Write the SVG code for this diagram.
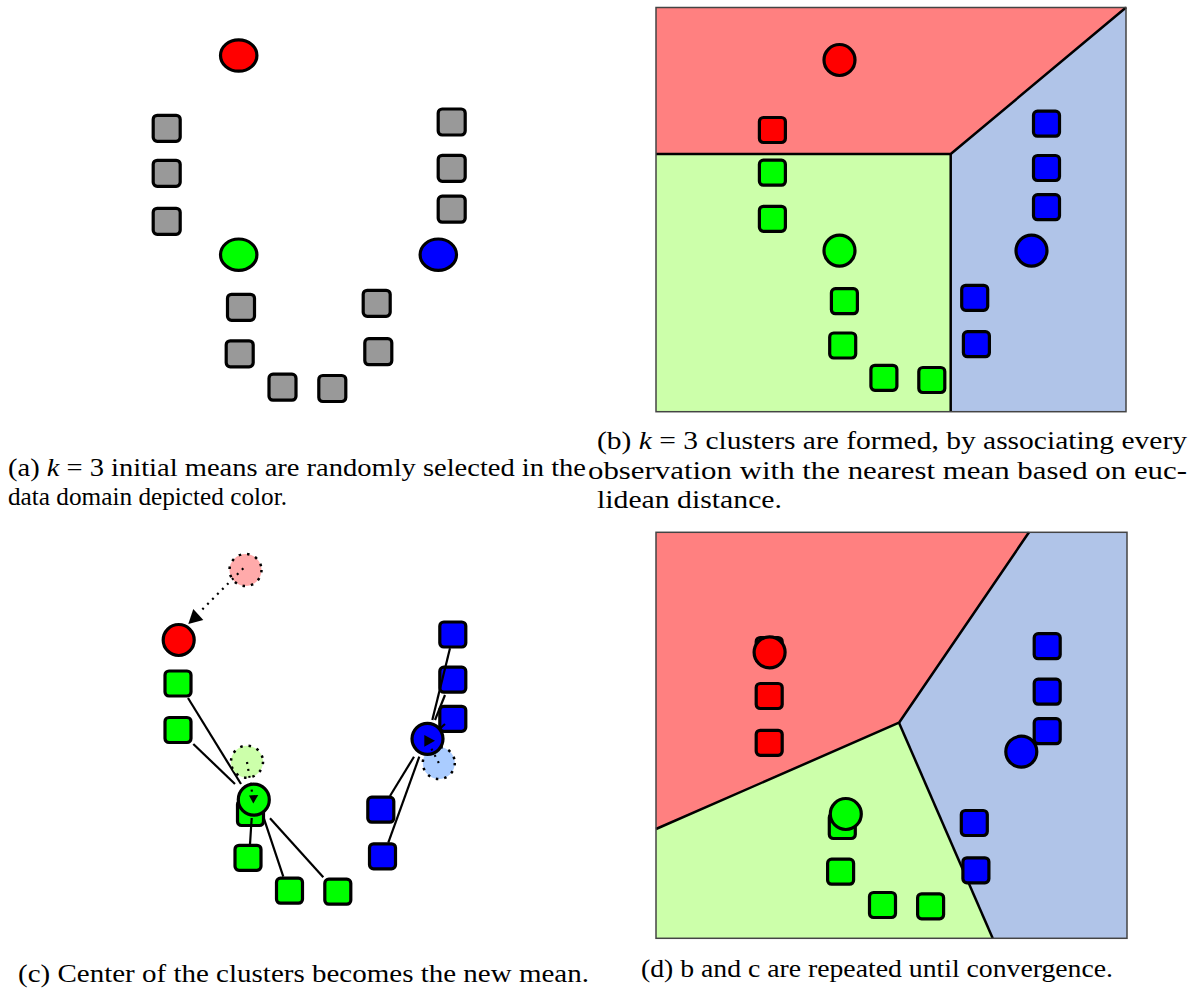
<svg xmlns="http://www.w3.org/2000/svg" width="1196" height="992" viewBox="0 0 1196 992">
<style>
.sq{stroke:#000;stroke-width:3.2;rx:4;ry:4}
.pt{stroke:#000;stroke-width:3.2}
.gray{fill:#999999}.red{fill:#ff0000}.green{fill:#00ff00}.blue{fill:#0000ff}
.dot{stroke:#000;stroke-width:2.2;stroke-dasharray:2 5;stroke-linecap:butt}
.ln{stroke:#000;stroke-width:2.2;fill:none}
.bd{stroke:#000;stroke-width:2.5;fill:none;stroke-linejoin:round}
.frame{fill:none;stroke:#444;stroke-width:1.5}
text{font-size:26px;fill:#000}
</style>

<!-- Panel (a) -->
<g id="panel-a">
<g id="a-points">
<rect class="sq gray" x="153.2" y="115.3" width="27" height="26"/>
<rect class="sq gray" x="153.2" y="160.3" width="27" height="26"/>
<rect class="sq gray" x="153.2" y="208.3" width="27" height="26"/>
<rect class="sq gray" x="438.2" y="109" width="27" height="26"/>
<rect class="sq gray" x="438.2" y="155.3" width="27" height="26"/>
<rect class="sq gray" x="438.2" y="196.2" width="27" height="26"/>
<rect class="sq gray" x="227.5" y="294.3" width="27" height="26"/>
<rect class="sq gray" x="226.2" y="340.8" width="27" height="26"/>
<rect class="sq gray" x="269" y="374.2" width="27" height="26"/>
<rect class="sq gray" x="318.8" y="375.5" width="27" height="26"/>
<rect class="sq gray" x="363.2" y="290.3" width="27" height="26"/>
<rect class="sq gray" x="364.8" y="338.7" width="27" height="26"/>
</g>
<ellipse id="a-mean-red" class="pt red" cx="238.7" cy="55.5" rx="18.2" ry="15.7"/>
<ellipse id="a-mean-green" class="pt green" cx="238.7" cy="254.7" rx="18.2" ry="15.7"/>
<ellipse id="a-mean-blue" class="pt blue" cx="438.3" cy="254.7" rx="18.2" ry="15.7"/>
</g>

<!-- Panel (b) -->
<g id="panel-b">
<polygon id="b-region-red" points="656,7.5 1126,7.5 950.7,154 656,154" fill="#ff8080"/>
<polygon id="b-region-green" points="656,154 950.7,154 950.7,411.7 656,411.7" fill="#ccffaa"/>
<polygon id="b-region-blue" points="950.7,154 1126,7.5 1126,411.7 950.7,411.7" fill="#b0c4e8"/>
<g id="b-boundaries">
<polyline class="bd" points="656,154 950.7,154 1126,7.5"/>
<line class="bd" x1="950.7" y1="154" x2="950.7" y2="411.7"/>
</g>
<rect class="frame" x="656" y="7.5" width="470" height="404.2"/>
<rect class="sq red" x="759.4" y="117.5" width="26" height="25"/>
<rect class="sq green" x="759.4" y="160.2" width="26" height="25"/>
<rect class="sq green" x="759.4" y="206.3" width="26" height="25"/>
<rect class="sq green" x="831.4" y="288.7" width="26" height="25"/>
<rect class="sq green" x="829.7" y="333" width="26" height="25"/>
<rect class="sq green" x="870.9" y="365.3" width="26" height="25"/>
<rect class="sq green" x="918.8" y="367.5" width="26" height="25"/>
<rect class="sq blue" x="1033.5" y="111.2" width="26" height="25"/>
<rect class="sq blue" x="1033.5" y="155.5" width="26" height="25"/>
<rect class="sq blue" x="1033.5" y="194.7" width="26" height="25"/>
<rect class="sq blue" x="961.7" y="285.3" width="26" height="25"/>
<rect class="sq blue" x="963.4" y="331.7" width="26" height="25"/>
<circle class="pt red" cx="839.5" cy="60" r="15.5"/>
<circle class="pt green" cx="839.5" cy="250.7" r="15.5"/>
<circle class="pt blue" cx="1031.5" cy="250.7" r="15.5"/>
</g>

<!-- Panel (c) -->
<g id="panel-c">
<g id="c-points">
<rect class="sq green" x="165" y="671" width="26" height="25"/>
<rect class="sq green" x="165" y="717.5" width="26" height="25"/>
<rect class="sq green" x="237.5" y="800.5" width="26" height="25"/>
<rect class="sq green" x="235" y="845.3" width="26" height="25"/>
<rect class="sq green" x="276.5" y="878.2" width="26" height="25"/>
<rect class="sq green" x="324.8" y="879.2" width="26" height="25"/>
<rect class="sq blue" x="439.8" y="622" width="26" height="25"/>
<rect class="sq blue" x="439.8" y="667.2" width="26" height="25"/>
<rect class="sq blue" x="439.8" y="706.3" width="26" height="25"/>
<rect class="sq blue" x="367.8" y="797.2" width="26" height="25"/>
<rect class="sq blue" x="369.5" y="843.8" width="26" height="25"/>
</g>
<g id="c-connectors">
<line class="ln" x1="188" y1="698" x2="241" y2="784"/>
<line class="ln" x1="193.3" y1="744" x2="235" y2="784"/>
<line class="ln" x1="251.7" y1="818" x2="250" y2="844"/>
<line class="ln" x1="263.3" y1="816.7" x2="283.3" y2="876.7"/>
<line class="ln" x1="270" y1="818.3" x2="323.3" y2="877.3"/>
<line class="ln" x1="450" y1="648.3" x2="432.3" y2="720"/>
<line class="ln" x1="445" y1="695" x2="435" y2="720"/>
<line class="ln" x1="445" y1="724" x2="438.3" y2="730"/>
<line class="ln" x1="414" y1="756.7" x2="390" y2="796"/>
<line class="ln" x1="419.3" y1="756.7" x2="388.3" y2="842.7"/>
</g>
<circle id="c-old-red" cx="245.5" cy="570" r="16" fill="#ffaaaa" stroke="#000" stroke-width="2.5" stroke-dasharray="2.5 6"/>
<circle id="c-old-green" cx="247" cy="761.7" r="16" fill="#ccffaa" stroke="#000" stroke-width="2.5" stroke-dasharray="2.5 6"/>
<circle id="c-new-red" class="pt red" cx="178.7" cy="640" r="15.5"/>
<circle id="c-old-blue" cx="438.8" cy="763" r="16" fill="#aaccff" stroke="#000" stroke-width="2.5" stroke-dasharray="2.5 6"/>
<circle id="c-new-green" class="pt green" cx="253.8" cy="799.7" r="15.5"/>
<circle id="c-new-blue" class="pt blue" cx="427.5" cy="738.8" r="15.5"/>
<g id="c-moves">
<line class="dot" x1="243.3" y1="568.3" x2="200" y2="611.7"/>
<polygon points="188.3,624 193.3,609 203.3,620" fill="#000"/>
<line class="dot" x1="247" y1="762" x2="252" y2="792"/>
<polygon points="249,795.5 258.3,795 253.3,803.5" fill="#000"/>
<line class="dot" x1="438.8" y1="763" x2="431" y2="748"/>
<polygon points="424.3,735 435,740.7 424.3,746.7" fill="#000"/>
</g>
</g>

<!-- Panel (d) -->
<g id="panel-d">
<polygon id="d-region-red" points="656,532.3 1029,532.3 899,722.7 656,829" fill="#ff8080"/>
<polygon id="d-region-green" points="656,829 899,722.7 992.7,938.3 656,938.3" fill="#ccffaa"/>
<polygon id="d-region-blue" points="1029,532.3 1127,532.3 1127,938.3 992.7,938.3 899,722.7" fill="#b0c4e8"/>
<g id="d-boundaries">
<polyline class="bd" points="1029,532.3 899,722.7 656,829"/>
<line class="bd" x1="899" y1="722.7" x2="992.7" y2="938.3"/>
</g>
<rect class="frame" x="656" y="532.3" width="471" height="406"/>
<rect class="sq red" x="756.2" y="637.5" width="26" height="25"/>
<rect class="sq red" x="756.2" y="683.5" width="26" height="25"/>
<rect class="sq red" x="756.2" y="730.3" width="26" height="25"/>
<rect class="sq green" x="829.3" y="813.5" width="26" height="25"/>
<rect class="sq green" x="827.6" y="859.2" width="26" height="25"/>
<rect class="sq green" x="869.5" y="892.5" width="26" height="25"/>
<rect class="sq green" x="917.6" y="893.8" width="26" height="25"/>
<rect class="sq blue" x="1034.2" y="633.7" width="26" height="25"/>
<rect class="sq blue" x="1034.2" y="679.2" width="26" height="25"/>
<rect class="sq blue" x="1034.2" y="718.7" width="26" height="25"/>
<rect class="sq blue" x="961.3" y="810.5" width="26" height="25"/>
<rect class="sq blue" x="962.9" y="857.8" width="26" height="25"/>
<circle class="pt red" cx="769.6" cy="652.3" r="15.5"/>
<circle class="pt green" cx="845.8" cy="814" r="15.5"/>
<circle class="pt blue" cx="1021.3" cy="751.7" r="15.5"/>
</g>

<!-- Captions -->
<g id="captions" font-family="'Liberation Serif', serif">
<text x="8" y="476" font-family="'Liberation Serif', serif" textLength="578" lengthAdjust="spacingAndGlyphs">(a) <tspan font-style="italic">k</tspan> = 3 initial means are randomly selected in the</text>
<text x="8" y="505" font-family="'Liberation Serif', serif" textLength="279" lengthAdjust="spacingAndGlyphs">data domain depicted color.</text>
<text x="597" y="449" font-family="'Liberation Serif', serif" textLength="590" lengthAdjust="spacingAndGlyphs">(b) <tspan font-style="italic">k</tspan> = 3 clusters are formed, by associating every</text>
<text x="588" y="479" font-family="'Liberation Serif', serif" textLength="599" lengthAdjust="spacingAndGlyphs">observation with the nearest mean based on euc-</text>
<text x="597" y="508" font-family="'Liberation Serif', serif" textLength="185" lengthAdjust="spacingAndGlyphs">lidean distance.</text>
<text x="18" y="982" font-family="'Liberation Serif', serif" textLength="571" lengthAdjust="spacingAndGlyphs">(c) Center of the clusters becomes the new mean.</text>
<text x="641" y="977" font-family="'Liberation Serif', serif" textLength="472" lengthAdjust="spacingAndGlyphs">(d) b and c are repeated until convergence.</text>
</g>
</svg>
